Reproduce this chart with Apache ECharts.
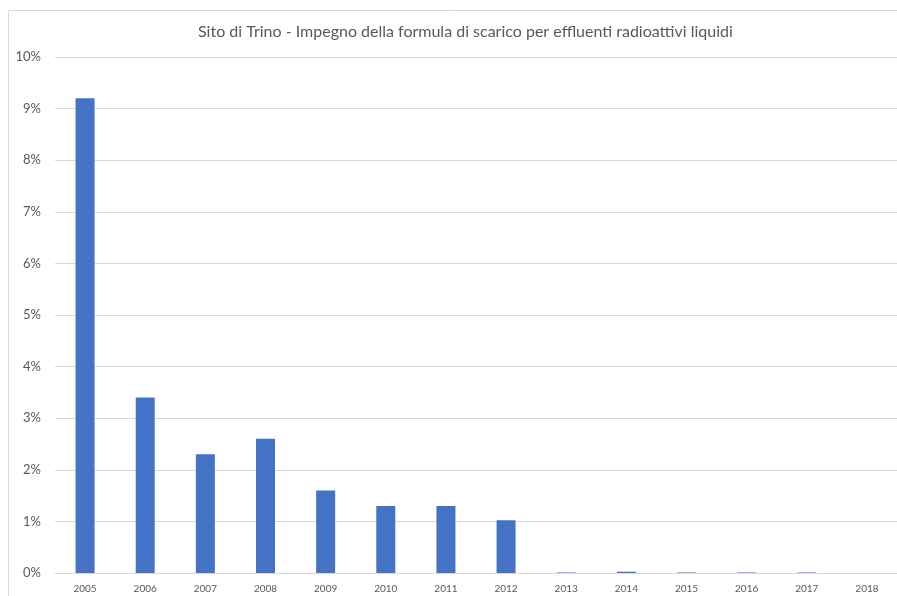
<!DOCTYPE html>
<html>
<head>
<meta charset="utf-8">
<script src="https://cdn.jsdelivr.net/npm/echarts@6/dist/echarts.min.js"></script>
<style>
  html, body { margin: 0; padding: 0; background: #fff; }
  #chart { width: 897px; height: 596px; }
</style>
</head>
<body>
<div id="chart"></div>
<script>
// Anni di riferimento
const years = ['2005', '2006', '2007', '2008', '2009', '2010', '2011', '2012', '2013', '2014', '2015', '2016', '2017', '2018'];
// Impegno della formula di scarico (%)
const impegno = [9.2, 3.4, 2.3, 2.6, 1.6, 1.3, 1.3, 1.02, 0.01, 0.025, 0.01, 0.01, 0.01, 0];
// Tacche dell'asse verticale (%)
const yMin = 0;
const yMax = 10;
const yStep = 1;

const chart = echarts.init(document.getElementById('chart'), null, { renderer: 'canvas' });

chart.setOption({
  animation: false,
  backgroundColor: '#ffffff',
  textStyle: { fontFamily: 'Lato, "Open Sans", sans-serif' },
  title: {
    text: 'Sito di Trino - Impegno della formula di scarico per effluenti radioattivi liquidi',
    left: 193,
    top: 19,
    textStyle: { fontSize: 16, fontWeight: 'normal', color: '#595959', fontFamily: 'Lato, sans-serif' }
  },
  graphic: [{
    type: 'rect',
    shape: { x: 8.5, y: 10.5, width: 900, height: 600 },
    style: { fill: 'none', stroke: '#d9d9d9', lineWidth: 1 },
    silent: true
  }],
  grid: { left: 55, right: -2, top: 57, bottom: 23, containLabel: false },
  xAxis: {
    type: 'category',
    data: years,
    axisLine: { show: true, lineStyle: { color: '#d9d9d9', width: 1 } },
    axisTick: { show: false },
    axisLabel: { color: '#595959', fontSize: 10, margin: 11 }
  },
  yAxis: {
    type: 'value',
    min: yMin,
    max: yMax,
    interval: yStep,
    axisLine: { show: false },
    axisTick: { show: false },
    splitLine: { lineStyle: { color: '#d9d9d9', width: 1 } },
    axisLabel: { color: '#595959', fontSize: 13, margin: 14, formatter: '{value}%' }
  },
  series: [{
    type: 'bar',
    data: impegno,
    barWidth: 19,
    itemStyle: { color: '#4472c4' }
  }]
});
</script>
</body>
</html>
